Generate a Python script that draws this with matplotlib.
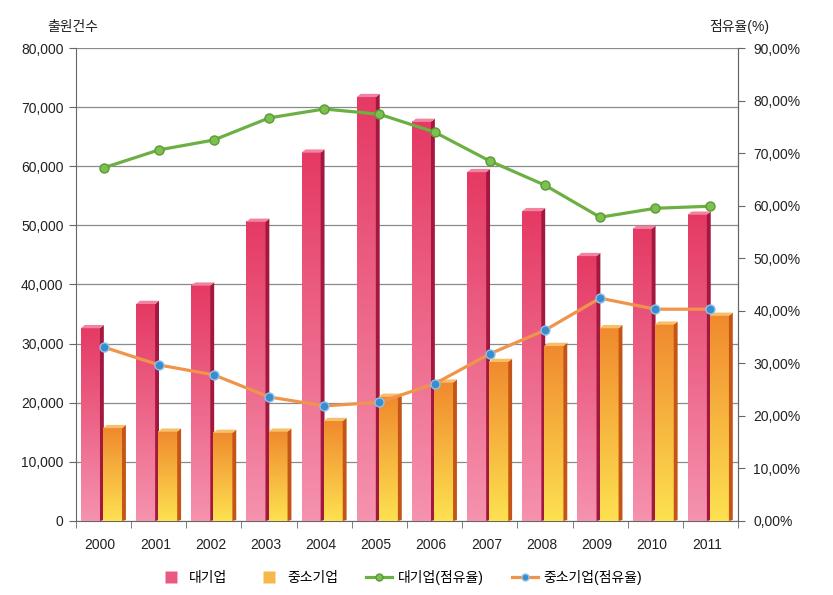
import numpy as np
import matplotlib
matplotlib.use("Agg")
import matplotlib.pyplot as plt
from matplotlib.colors import LinearSegmentedColormap
from matplotlib.patches import Polygon
from matplotlib.lines import Line2D
from matplotlib.ticker import FuncFormatter

plt.rcParams['font.family'] = ['Liberation Sans', 'Noto Sans CJK KR', 'DejaVu Sans']

years = ['2000', '2001', '2002', '2003', '2004', '2005', '2006', '2007', '2008', '2009', '2010', '2011']
large = [32600, 36700, 39800, 50600, 62300, 71700, 67500, 59000, 52400, 44800, 49400, 51800]
sme = [15700, 15100, 14900, 15100, 16900, 21000, 23400, 26900, 29600, 32600, 33200, 34700]
large_share = [67.2, 70.6, 72.5, 76.7, 78.4, 77.4, 74.0, 68.5, 63.9, 57.8, 59.5, 59.9]
sme_share = [33.1, 29.7, 27.8, 23.6, 21.9, 22.6, 26.1, 31.8, 36.3, 42.4, 40.3, 40.3]

fig = plt.figure(figsize=(8.33, 5.95), dpi=100)
ax = fig.add_axes([0.0912, 0.1244, 0.886 - 0.0912, 0.9193 - 0.1244])
ax2 = ax.twinx()

x = np.arange(len(years))
w = 0.345
ddx = 0.07
ddy = 550

def draw_bar(xl, h, top_c, bot_c, side_c, cap_c):
    cmap = LinearSegmentedColormap.from_list('g', [bot_c, top_c])
    grad = np.linspace(0, 1, 64).reshape(-1, 1)
    ax.imshow(grad, extent=[xl, xl + w, 0, h], origin='lower', cmap=cmap,
              aspect='auto', zorder=3, interpolation='bilinear')
    side = Polygon([[xl + w, 0], [xl + w + ddx, ddy * 0.3], [xl + w + ddx, h + ddy], [xl + w, h]],
                   closed=True, facecolor=side_c, edgecolor='none', zorder=3)
    ax.add_patch(side)
    cap = Polygon([[xl, h], [xl + ddx, h + ddy], [xl + w + ddx, h + ddy], [xl + w, h]],
                  closed=True, facecolor=cap_c, edgecolor='none', zorder=3)
    ax.add_patch(cap)

for i in range(len(years)):
    draw_bar(x[i] - 0.41, large[i], '#e53a64', '#f592ae', '#a3183f', '#f283a0')
    draw_bar(x[i] - 0.01, sme[i], '#f08a2e', '#fde150', '#c45516', '#f8bf6a')

ax.set_xlim(-0.5, len(years) - 0.5)
ax.set_ylim(0, 80000)
ax.set_yticks(np.arange(0, 80001, 10000))
ax.yaxis.set_major_formatter(FuncFormatter(lambda v, p: f'{int(v):,}'))
ax.set_xticks(x - 0.06)
ax.set_xticklabels(years)
ax.set_xticks(np.arange(-0.5, len(years), 1), minor=True)
ax.tick_params(axis='x', which='major', length=0, pad=12, labelsize=10, colors='#222222')
ax.tick_params(axis='x', which='minor', length=5, color='#666666', direction='out')
ax.tick_params(axis='y', length=5, color='#666666', labelsize=10, pad=4, colors='#222222')
ax.grid(axis='y', color='#8a8a8a', linewidth=0.9, zorder=0)
ax.set_axisbelow(True)
ax.spines['top'].set_visible(False)
for s in ['left', 'bottom', 'right']:
    ax.spines[s].set_color('#666666')

ax2.plot(x, large_share, color='#6cb043', linewidth=2.3, marker='o', markersize=6.5,
         markerfacecolor='#7cc050', markeredgecolor='#5a9a35', zorder=5)
ax2.plot(x, sme_share, color='#f0944c', linewidth=2.3, marker='o', markersize=6.5,
         markerfacecolor='#3a8ccc', markeredgecolor='#8cc4ea', zorder=5)
ax2.set_ylim(0, 90)
ax2.set_yticks(np.arange(0, 91, 10))
ax2.yaxis.set_major_formatter(FuncFormatter(lambda v, p: f'{v:.2f}%'.replace('.', ',')))
ax2.tick_params(axis='y', length=5, color='#666666', labelsize=10, pad=6, colors='#222222')
for s in ['top', 'left', 'bottom']:
    ax2.spines[s].set_visible(False)
ax2.spines['right'].set_color('#666666')

fig.text(0.087, 0.955, '출원건수', ha='center', va='center', fontsize=10, color='#222222')
fig.text(0.887, 0.955, '점유율(%)', ha='center', va='center', fontsize=10, color='#222222')

handles = [
    Line2D([0], [0], linestyle='none', marker='s', markersize=8,
           markerfacecolor='#ea5a80', markeredgecolor='none'),
    Line2D([0], [0], linestyle='none', marker='s', markersize=8,
           markerfacecolor='#f7b84a', markeredgecolor='none'),
    Line2D([0], [0], color='#6cb043', linewidth=2.3, marker='o', markersize=5,
           markerfacecolor='#7cc050', markeredgecolor='#5a9a35'),
    Line2D([0], [0], color='#f0944c', linewidth=2.3, marker='o', markersize=5,
           markerfacecolor='#3a8ccc', markeredgecolor='#8cc4ea'),
]
labels = ['대기업', '중소기업', '대기업(점유율)', '중소기업(점유율)']
fig.legend(handles, labels, loc='center', bbox_to_anchor=(0.48, 0.03), ncol=4, frameon=False,
           fontsize=10, handlelength=1.9, columnspacing=2.0, handletextpad=0.4)

fig.savefig('out.png', dpi=100)
